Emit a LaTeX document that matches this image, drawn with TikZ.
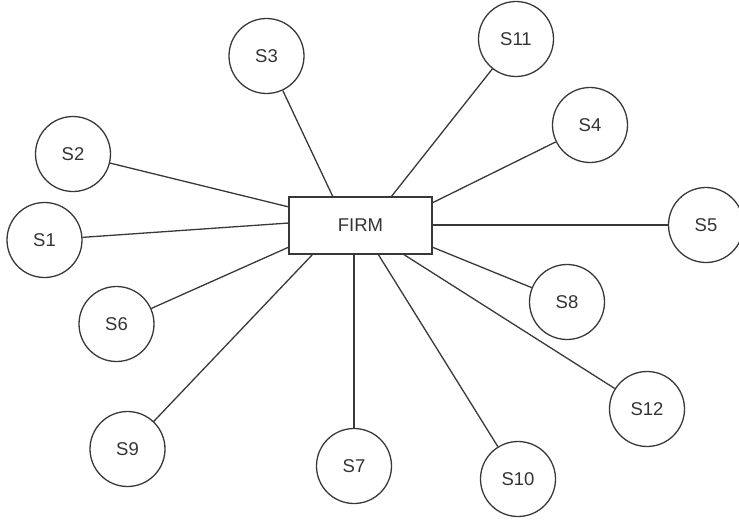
\documentclass[tikz,border=0pt]{standalone}
\usepackage{fontspec}
\setmainfont{Liberation Sans}
\begin{document}
\begin{tikzpicture}[x=1pt,y=-1pt,
  ln/.style={draw=black!78,line width=1.3pt},
  sbox/.style={ln,circle,minimum size=75pt,inner sep=0pt,font=\fontsize{18.5}{22}\selectfont,text=black!80},
  firmbox/.style={ln,rectangle,minimum width=143pt,minimum height=57pt,inner sep=0pt,font=\fontsize{18.5}{22}\selectfont,text=black!80}]
\useasboundingbox (0,0) rectangle (739,522);
\clip (0,0) rectangle (739,522);
\node[firmbox] (firm) at (360.5,225.5) {FIRM};
\node[sbox] (s1) at (44.5,240) {S1};
\node[sbox] (s2) at (73,154) {S2};
\node[sbox] (s3) at (266.5,56) {S3};
\node[sbox] (s4) at (590,125) {S4};
\node[sbox] (s5) at (706,225) {S5};
\node[sbox] (s6) at (116.5,324) {S6};
\node[sbox] (s7) at (354,466) {S7};
\node[sbox] (s8) at (567,302) {S8};
\node[sbox] (s9) at (127.5,449) {S9};
\node[sbox] (s10) at (518,479) {S10};
\node[sbox] (s11) at (516,39) {S11};
\node[sbox] (s12) at (647,409) {S12};
\coordinate (a1) at (289,223);
\coordinate (a2) at (289,207);
\coordinate (a3) at (333,197);
\coordinate (a4) at (432,203);
\coordinate (a5) at (432,225);
\coordinate (a6) at (289,247);
\coordinate (a7) at (354,254);
\coordinate (a8) at (432,247);
\coordinate (a9) at (313,254);
\coordinate (a10) at (378,254);
\coordinate (a11) at (391,197);
\coordinate (a12) at (403,254);
\foreach \i in {1,...,12} {\draw[ln] (a\i) -- (s\i);}
\end{tikzpicture}
\end{document}
